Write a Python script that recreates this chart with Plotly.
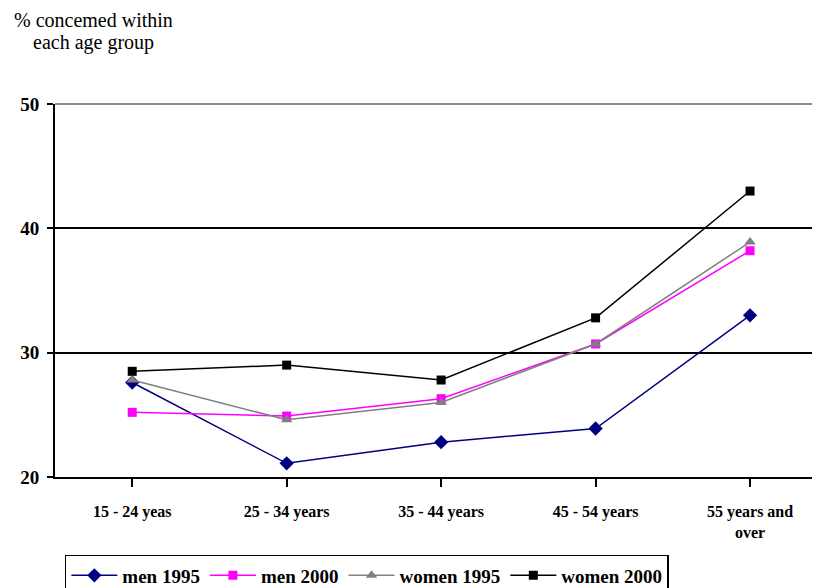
import plotly.graph_objects as go

categories = ["15 - 24 yeas", "25 - 34 years", "35 - 44 years", "45 - 54 years", "55 years and<br>over"]
men_1995 = [27.6, 21.1, 22.8, 23.9, 33.0]
men_2000 = [25.2, 24.9, 26.3, 30.7, 38.2]
women_1995 = [27.8, 24.6, 26.0, 30.7, 38.9]
women_2000 = [28.5, 29.0, 27.8, 32.8, 43.0]
y_ticks = [20, 30, 40, 50]
title_lines = ["% concemed within", "each age group"]

FONT = "Liberation Serif"

series = [
    ("men 1995", men_1995, "#000080", "diamond", 11),
    ("men 2000", men_2000, "#FF00FF", "square", 9),
    ("women 1995", women_1995, "#808080", "triangle-up", 10),
    ("women 2000", women_2000, "#000000", "square", 9),
]

fig = go.Figure()
for name, vals, col, sym, sz in series:
    fig.add_trace(go.Scatter(
        x=list(range(len(categories))), y=vals, name=name, mode="lines+markers",
        line=dict(color=col, width=1.5),
        marker=dict(symbol=sym, size=sz, color=col),
    ))

fig.update_layout(
    width=812, height=580,
    paper_bgcolor="white", plot_bgcolor="white",
    margin=dict(l=47, r=2, t=96, b=111),
    font=dict(family=FONT, color="black"),
    showlegend=True,
    legend=dict(
        orientation="h", xref="container", yref="container",
        x=0.070, xanchor="left", y=0.0569, yanchor="top",
        bordercolor="black", borderwidth=1.5, bgcolor="white",
        font=dict(family=FONT, size=19, weight="bold"),
        itemwidth=46, tracegroupgap=0,
    ),
    xaxis=dict(
        range=[-0.5, 4.44], tickmode="array",
        tickvals=list(range(len(categories))), ticktext=categories,
        showgrid=False, zeroline=False, showline=True, linecolor="black", linewidth=1.5,
        ticks="outside", tickson="boundaries", ticklen=8, tickcolor="black", tickwidth=1.5,
        ticklabelstandoff=11, automargin=False,
        tickfont=dict(family=FONT, size=16, weight="bold"),
    ),
    yaxis=dict(
        range=[20, 50], tickvals=y_ticks,
        showgrid=True, gridcolor="black", gridwidth=1.5,
        zeroline=False, showline=True, linecolor="black", linewidth=2,
        ticks="outside", ticklen=6, tickcolor="black", tickwidth=1.5,
        ticklabelstandoff=4, automargin=False,
        tickfont=dict(family=FONT, size=19, weight="bold"),
    ),
    shapes=[dict(
        type="line", xref="x domain", yref="y domain", x0=0, x1=1, y0=1, y1=1,
        line=dict(color="#8a8a8a", width=2), layer="below",
    )],
    annotations=[
        dict(text=title_lines[0], xref="paper", yref="paper", x=0.051, y=1.225,
             xanchor="center", yanchor="middle", showarrow=False,
             font=dict(family=FONT, size=20)),
        dict(text=title_lines[1], xref="paper", yref="paper", x=0.051, y=1.164,
             xanchor="center", yanchor="middle", showarrow=False,
             font=dict(family=FONT, size=20)),
    ],
)

fig.write_html("out.html")
